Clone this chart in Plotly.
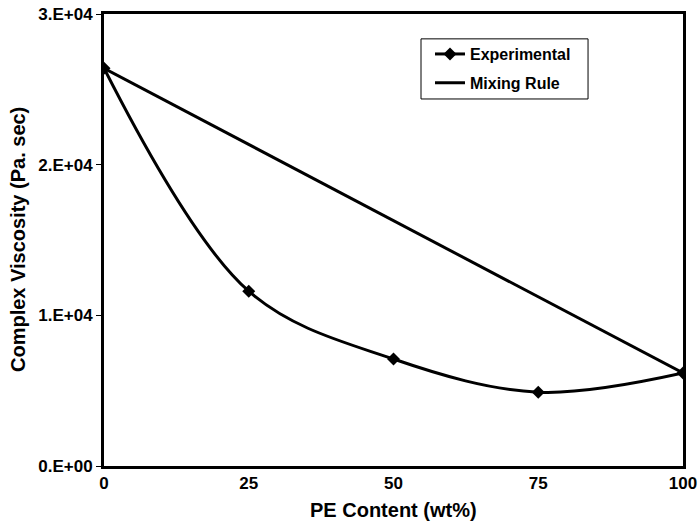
import plotly.graph_objects as go

# PE content (wt%) and complex viscosity (Pa.s)
pe_content = [0, 25, 50, 75, 100]
experimental = [26400, 11600, 7100, 4900, 6170]
mixing_rule = [26400, 6170]
mixing_x = [0, 100]

y_ticks = [0, 10000, 20000, 30000]
y_tick_text = ["0.E+00", "1.E+04", "2.E+04", "3.E+04"]
x_ticks = [0, 25, 50, 75, 100]

font_family = "Arial, Liberation Sans, sans-serif"

fig = go.Figure()
fig.add_trace(go.Scatter(
    x=pe_content, y=experimental, name="Experimental",
    mode="lines+markers", line=dict(color="black", width=3, shape="spline", smoothing=1.0),
    marker=dict(symbol="diamond", size=10, color="black"),
    legendgroup="a",
))
fig.add_trace(go.Scatter(
    x=mixing_x, y=mixing_rule, name="Mixing Rule",
    mode="lines", line=dict(color="black", width=3),
    legendgroup="b",
))

# Legend frame drawn as a shape so its size can be set directly
fig.add_shape(
    type="rect", xref="paper", yref="paper",
    x0=0.5475, x1=0.836, y0=0.812, y1=0.945,
    line=dict(color="black", width=1), fillcolor="white", layer="below",
)

# Axis titles placed as annotations for exact positioning
fig.add_annotation(
    text="PE Content (wt%)", xref="paper", yref="paper", x=0.5, y=-0.0973,
    showarrow=False, xanchor="center", yanchor="middle",
    font=dict(size=20, weight="bold"),
)
fig.add_annotation(
    text="Complex Viscosity (Pa. sec)", xref="paper", yref="paper", x=-0.1485, y=0.5,
    showarrow=False, xanchor="center", yanchor="middle", textangle=-90,
    font=dict(size=20, weight="bold"),
)

fig.update_layout(
    width=698, height=524,
    margin=dict(l=104, r=15, t=14, b=58, autoexpand=False),
    paper_bgcolor="white", plot_bgcolor="white",
    font=dict(family=font_family, color="black", size=16, weight="bold"),
    legend=dict(
        x=0.563, y=0.949, xanchor="left", yanchor="top",
        borderwidth=0, bgcolor="rgba(0,0,0,0)",
        font=dict(size=16, weight="bold"),
        tracegroupgap=5, traceorder="grouped",
    ),
    showlegend=True,
)
fig.update_xaxes(
    range=[0, 100], tickvals=x_ticks, ticks="",
    showgrid=False, zeroline=False, automargin=False,
    showline=True, linecolor="black", linewidth=3, mirror=True,
    tickfont=dict(size=17, weight="bold"),
)
fig.update_yaxes(
    range=[0, 30000], tickvals=y_ticks, ticktext=y_tick_text, ticks="outside",
    ticklen=5, tickwidth=1, tickcolor="black", showgrid=False, zeroline=False,
    automargin=False,
    showline=True, linecolor="black", linewidth=3, mirror=True,
    tickfont=dict(size=17, weight="bold"),
)

fig.write_html("out.html")
